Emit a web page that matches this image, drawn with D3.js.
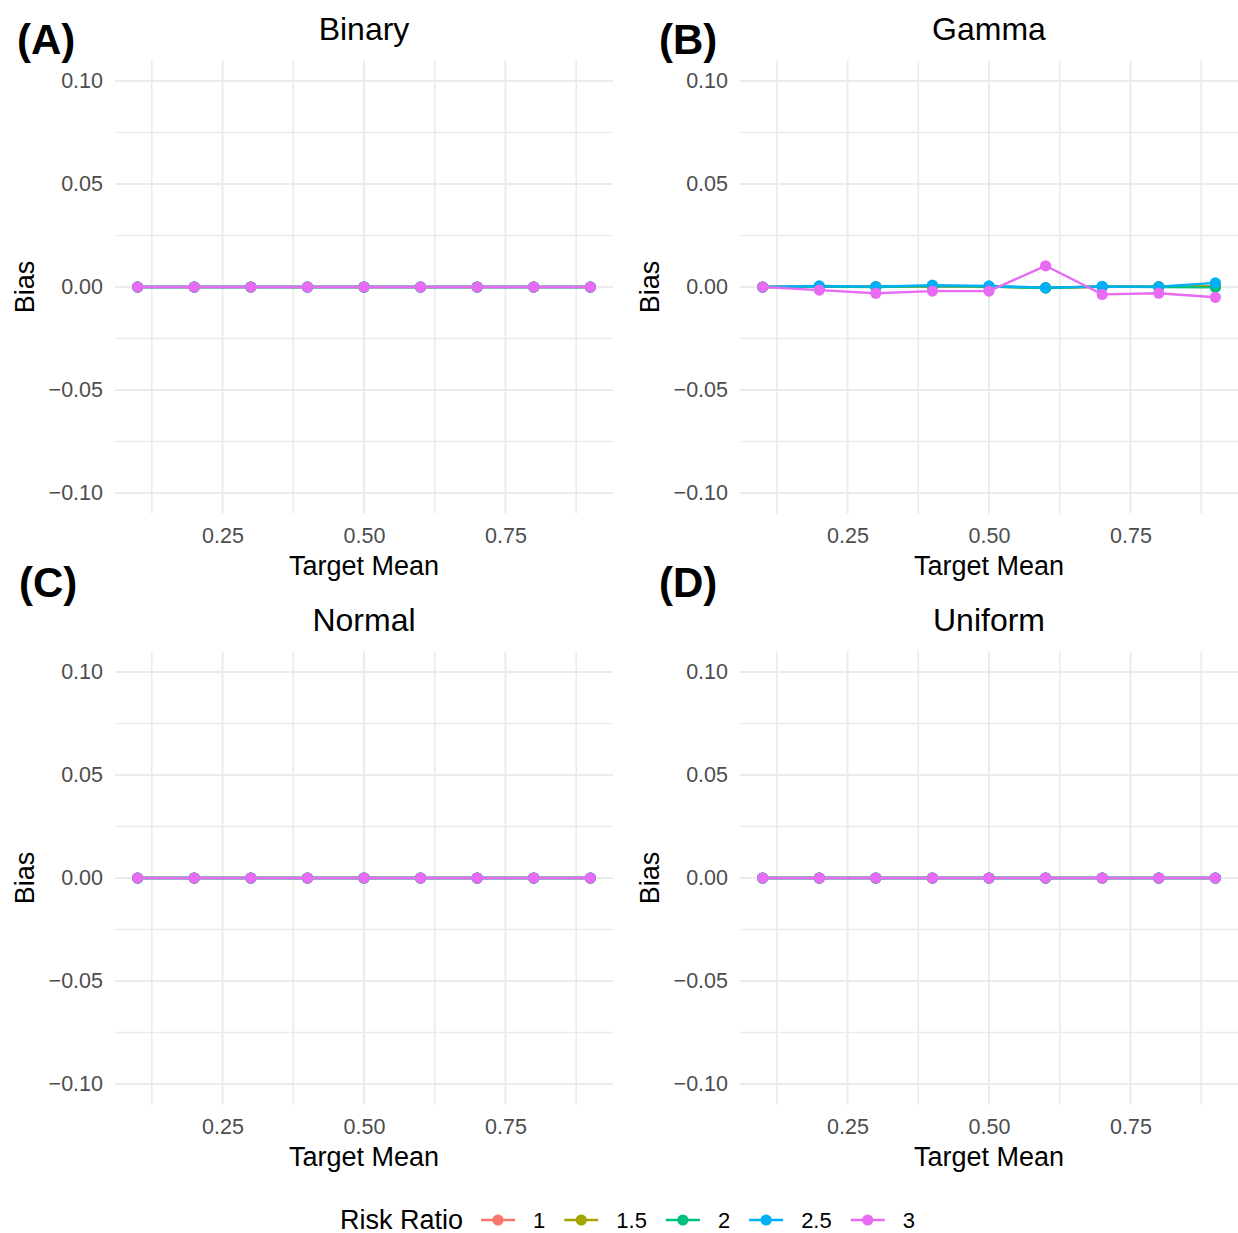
<!DOCTYPE html>
<html>
<head>
<meta charset="utf-8">
<script src="https://cdn.jsdelivr.net/npm/d3@7"></script>
<style>
  html, body { margin: 0; padding: 0; background: #fff; }
  svg { display: block; font-family: "Liberation Sans", Arial, Helvetica, sans-serif; }
</style>
</head>
<body>
<svg id="chart" width="1238" height="1233"></svg>
<script>
// ---------------- DATA ----------------
const targetMeans = [0.1, 0.2, 0.3, 0.4, 0.5, 0.6, 0.7, 0.8, 0.9];
const riskRatios = ["1", "1.5", "2", "2.5", "3"];
const seriesColors = ["#F8766D", "#A3A500", "#00BF7D", "#00B0F6", "#E76BF3"];
const panelTags = ["(A)", "(B)", "(C)", "(D)"];
const panelTitles = ["Binary", "Gamma", "Normal", "Uniform"];
const yTickValues = [-0.10, -0.05, 0.00, 0.05, 0.10];
const yTickLabels = ["\u22120.10", "\u22120.05", "0.00", "0.05", "0.10"];
const yMinorValues = [-0.075, -0.025, 0.025, 0.075];
const xTickValues = [0.25, 0.50, 0.75];
const xTickLabels = ["0.25", "0.50", "0.75"];
const xMinorValues = [0.125, 0.375, 0.625, 0.875];

// Bias values per panel, per risk ratio (rows: RR 1, 1.5, 2, 2.5, 3)
const biasBinary = [
  [0, 0, 0, 0, 0, 0, 0, 0, 0],
  [0, 0, 0, 0, 0, 0, 0, 0, 0],
  [0, 0, 0, 0, 0, 0, 0, 0, 0],
  [0, 0, 0, 0, 0, 0, 0, 0, 0],
  [0, 0, 0, 0, 0, 0, 0, 0, 0]
];
const biasGamma = [
  [0, 0.0002, 0.0001, 0.0003, 0.0002, -0.0003, 0.0001, 0.0001, 0.0004],
  [0, 0.0002, 0.0001, 0.0004, 0.0002, -0.0004, 0.0001, 0.0001, 0.0003],
  [0, 0.0002, 0.0000, 0.0005, 0.0002, -0.0005, 0.0002, 0.0000, -0.0002],
  [0, 0.0005, 0.0002, 0.0009, 0.0005, -0.0003, 0.0003, 0.0002, 0.0020],
  [0, -0.0015, -0.0030, -0.0020, -0.0020, 0.0103, -0.0036, -0.0030, -0.0050]
];
const biasNormal = [
  [0, 0, 0, 0, 0, 0, 0, 0, 0],
  [0, 0, 0, 0, 0, 0, 0, 0, 0],
  [0, 0, 0, 0, 0, 0, 0, 0, 0],
  [0, 0, 0, 0, 0, 0, 0, 0, 0],
  [0, 0, 0, 0, 0, 0, 0, 0, 0]
];
const biasUniform = [
  [0, 0, 0, 0, 0, 0, 0, 0, 0],
  [0, 0, 0, 0, 0, 0, 0, 0, 0],
  [0, 0, 0, 0, 0, 0, 0, 0, 0],
  [0, 0, 0, 0, 0, 0, 0, 0, 0],
  [0, 0, 0, 0, 0, 0, 0, 0, 0]
];
const panelData = [biasBinary, biasGamma, biasNormal, biasUniform];

// ---------------- LAYOUT ----------------
const svg = d3.select("#chart");
const panels = [
  { left: 115, right: 613, top: 60.4, bottom: 513.6, tagX: 17, tagY: 54, titleY: 40 },
  { left: 740, right: 1238, top: 60.4, bottom: 513.6, tagX: 659, tagY: 54, titleY: 40 },
  { left: 115, right: 613, top: 651.4, bottom: 1104.6, tagX: 19, tagY: 597, titleY: 631 },
  { left: 740, right: 1238, top: 651.4, bottom: 1104.6, tagX: 659, tagY: 597, titleY: 631 }
];
const gridColor = "#EBEBEB";
const tickColor = "#4D4D4D";
const ptR = 5.6;
const lineW = 2.4;

panels.forEach((p, i) => {
  const x = d3.scaleLinear().domain([0.06, 0.94]).range([p.left, p.right]);
  const y = d3.scaleLinear().domain([-0.11, 0.11]).range([p.bottom, p.top]);
  const g = svg.append("g");

  // minor grid
  g.selectAll(".ymin").data(yMinorValues).join("line")
    .attr("x1", p.left).attr("x2", p.right)
    .attr("y1", d => y(d)).attr("y2", d => y(d))
    .attr("stroke", gridColor).attr("stroke-width", 1.7);
  g.selectAll(".xmin").data(xMinorValues).join("line")
    .attr("y1", p.top).attr("y2", p.bottom)
    .attr("x1", d => x(d)).attr("x2", d => x(d))
    .attr("stroke", gridColor).attr("stroke-width", 1.7);
  // major grid
  g.selectAll(".ymaj").data(yTickValues).join("line")
    .attr("x1", p.left).attr("x2", p.right)
    .attr("y1", d => y(d)).attr("y2", d => y(d))
    .attr("stroke", gridColor).attr("stroke-width", 2);
  g.selectAll(".xmaj").data(xTickValues).join("line")
    .attr("y1", p.top).attr("y2", p.bottom)
    .attr("x1", d => x(d)).attr("x2", d => x(d))
    .attr("stroke", gridColor).attr("stroke-width", 2);

  // axes (text only)
  const yAxis = d3.axisLeft(y).tickValues(yTickValues)
    .tickFormat((d, k) => yTickLabels[k]).tickSize(0).tickPadding(12);
  const ya = g.append("g").attr("transform", `translate(${p.left},0)`).call(yAxis);
  ya.select(".domain").remove();
  ya.selectAll("text").attr("fill", tickColor).style("font-size", "21.5px")
    .style("font-family", '"Liberation Sans", Arial, sans-serif');

  const xAxis = d3.axisBottom(x).tickValues(xTickValues)
    .tickFormat((d, k) => xTickLabels[k]).tickSize(0).tickPadding(14);
  const xa = g.append("g").attr("transform", `translate(0,${p.bottom})`).call(xAxis);
  xa.select(".domain").remove();
  xa.selectAll("text").attr("fill", tickColor).style("font-size", "21.5px")
    .style("font-family", '"Liberation Sans", Arial, sans-serif');

  // axis titles
  g.append("text").attr("x", (p.left + p.right) / 2).attr("y", p.bottom + 61)
    .attr("text-anchor", "middle").attr("fill", "#000").style("font-size", "27px")
    .text("Target Mean");
  g.append("text")
    .attr("transform", `translate(${p.left - 81},${(p.top + p.bottom) / 2}) rotate(-90)`)
    .attr("text-anchor", "middle").attr("fill", "#000").style("font-size", "27px")
    .text("Bias");

  // title & tag
  g.append("text").attr("x", (p.left + p.right) / 2).attr("y", p.titleY)
    .attr("text-anchor", "middle").attr("fill", "#000").style("font-size", "32px")
    .text(panelTitles[i]);
  g.append("text").attr("x", p.tagX).attr("y", p.tagY)
    .attr("fill", "#000").style("font-size", "42px").style("font-weight", "bold")
    .text(panelTags[i]);

  // series
  const data = panelData[i];
  const line = d3.line().x((d, k) => x(targetMeans[k])).y(d => y(d));
  data.forEach((vals, s) => {
    const sg = g.append("g");
    sg.append("path").datum(vals).attr("d", line)
      .attr("fill", "none").attr("stroke", seriesColors[s]).attr("stroke-width", lineW);
    sg.selectAll("circle").data(vals).join("circle")
      .attr("cx", (d, k) => x(targetMeans[k])).attr("cy", d => y(d))
      .attr("r", ptR).attr("fill", seriesColors[s]);
  });
});

// ---------------- LEGEND ----------------
const legY = 1220;
const leg = svg.append("g");
const legTitle = leg.append("text").attr("x", 340).attr("y", legY)
  .attr("dy", "0.35em").attr("fill", "#000").style("font-size", "27px").text("Risk Ratio");
let cx = 340 + legTitle.node().getComputedTextLength() + 18;
riskRatios.forEach((rr, s) => {
  leg.append("line").attr("x1", cx).attr("x2", cx + 34).attr("y1", legY).attr("y2", legY)
    .attr("stroke", seriesColors[s]).attr("stroke-width", lineW);
  leg.append("circle").attr("cx", cx + 17).attr("cy", legY).attr("r", ptR).attr("fill", seriesColors[s]);
  cx += 34 + 18;
  const t = leg.append("text").attr("x", cx).attr("y", legY).attr("dy", "0.35em")
    .attr("fill", "#000").style("font-size", "22px").text(rr);
  cx += t.node().getComputedTextLength() + 19;
});
</script>
</body>
</html>
